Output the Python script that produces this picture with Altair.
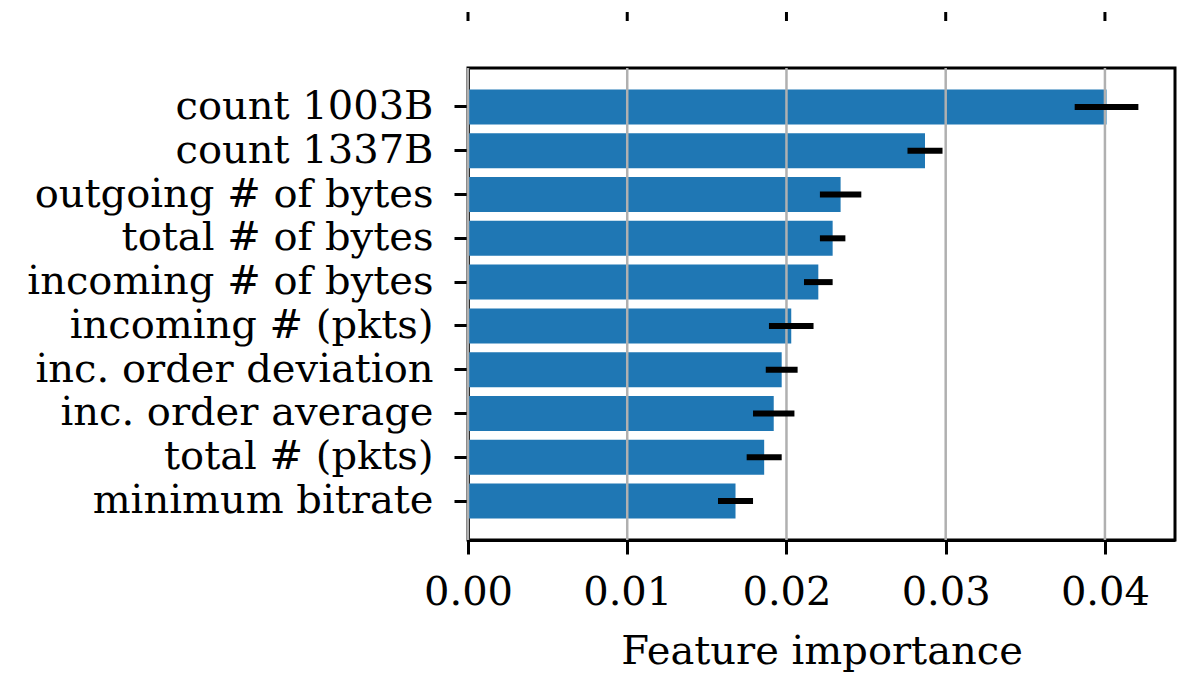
import altair as alt
import pandas as pd

# Permutation feature importance with its spread, most important first
features = [
    "count 1003B",
    "count 1337B",
    "outgoing # of bytes",
    "total # of bytes",
    "incoming # of bytes",
    "incoming # (pkts)",
    "inc. order deviation",
    "inc. order average",
    "total # (pkts)",
    "minimum bitrate",
]
importance = [0.0401, 0.0287, 0.0234, 0.0229, 0.0220, 0.0203, 0.0197, 0.0192, 0.0186, 0.0168]
spread = [0.0020, 0.0011, 0.0013, 0.0008, 0.0009, 0.0014, 0.0010, 0.0013, 0.0011, 0.0011]
tick_values = [0.00, 0.01, 0.02, 0.03, 0.04]

FONT = "DejaVu Serif"
FS = 40

df = pd.DataFrame({"feature": features, "importance": importance, "spread": spread})
ticks = pd.DataFrame({"tick": tick_values})

x_scale = alt.Scale(domain=[0, 0.0444], nice=False, zero=True)
y_scale = alt.Scale(paddingInner=0.2, paddingOuter=0.49)

x_axis = alt.Axis(
    values=tick_values,
    format=".2f",
    title="Feature importance",
    grid=False,
    labelFlush=False,
    labelPadding=18,
    titlePadding=19,
)
y_axis = alt.Axis(title=None, labelPadding=21, labelLimit=0)

bars = (
    alt.Chart(df)
    .mark_bar(color="#1f77b4")
    .encode(
        x=alt.X("importance:Q", scale=x_scale, axis=x_axis),
        y=alt.Y("feature:N", sort=features, scale=y_scale, axis=y_axis),
    )
)

grid = (
    alt.Chart(ticks)
    .mark_rule(color="#b0b0b0", strokeWidth=2.5)
    .encode(x=alt.X("tick:Q", scale=x_scale))
)

errors = (
    alt.Chart(df)
    .transform_calculate(
        lo="datum.importance - datum.spread",
        hi="datum.importance + datum.spread",
    )
    .mark_rule(color="black", strokeWidth=6)
    .encode(
        x=alt.X("lo:Q", scale=x_scale),
        x2="hi:Q",
        y=alt.Y("feature:N", sort=features, scale=y_scale),
    )
)

# Short tick marks of the panel above, sharing the same x positions
top_ticks = (
    alt.Chart(ticks)
    .mark_rule(color="black", strokeWidth=3, clip=False)
    .encode(
        x=alt.X("tick:Q", scale=x_scale),
        y=alt.value(-56),
        y2=alt.value(-47),
    )
)

chart = (
    alt.layer(bars, grid, errors, top_ticks)
    .properties(
        width=707,
        height=472,
        autosize=alt.AutoSizeParams(type="none"),
        padding={"left": 468, "top": 68, "right": 14, "bottom": 133},
        background="white",
    )
    .configure_view(stroke="black", strokeWidth=3)
    .configure_axis(
        domainColor="black",
        domainWidth=3,
        tickColor="black",
        tickWidth=3,
        tickSize=14,
        labelFont=FONT,
        labelFontSize=FS,
        labelColor="black",
        titleFont=FONT,
        titleFontSize=FS,
        titleFontWeight="normal",
        titleColor="black",
    )
)

chart.save("out.html", embed_options={"renderer": "svg", "actions": False})
